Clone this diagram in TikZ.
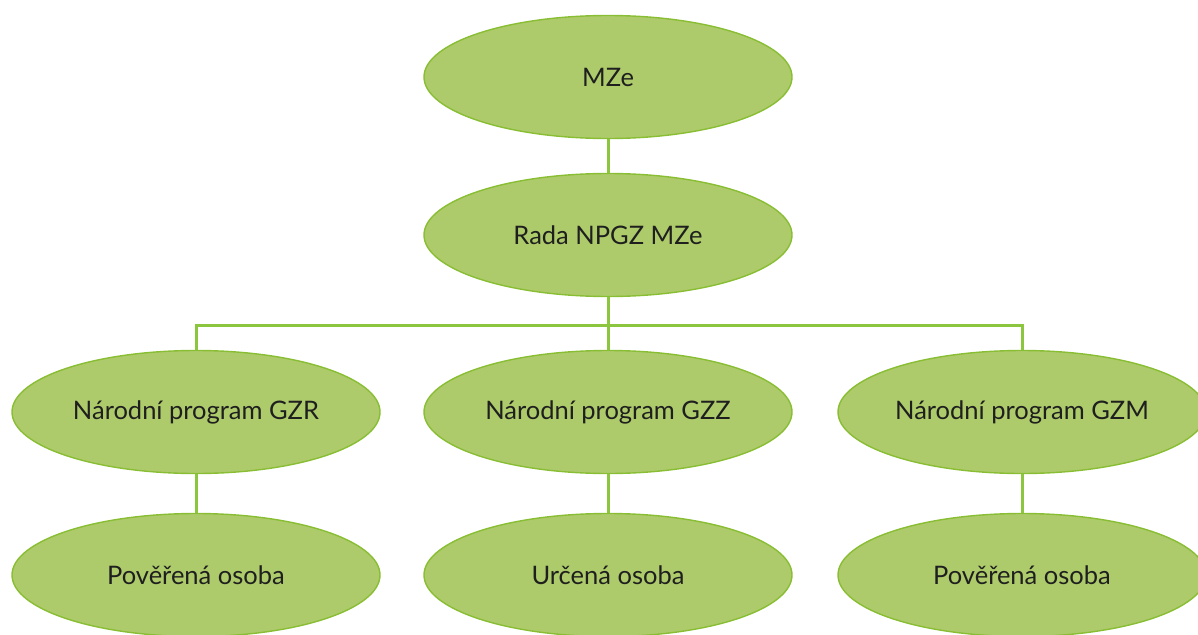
\documentclass[tikz,border=0pt]{standalone}
\usepackage{fontspec}
\setmainfont{Lato}
\usetikzlibrary{shapes.geometric}
\definecolor{efill}{RGB}{173,203,106}
\definecolor{edraw}{RGB}{137,190,52}
\definecolor{lcol}{RGB}{140,198,63}
\tikzset{
  bubble/.style={ellipse, draw=edraw, fill=efill, line width=1.4pt, minimum width=368pt, minimum height=123pt, inner sep=0pt, font=\fontsize{25.5}{30}\selectfont, text=black!88},
  link/.style={draw=lcol, line width=3pt}
}
\begin{document}
\begin{tikzpicture}[x=1pt,y=-1pt]
\useasboundingbox (0,0) rectangle (1198,634);
\node[bubble] (mze) at (608,77) {MZe};
\node[bubble] (rada) at (608,235) {Rada NPGZ MZe};
\node[bubble] (gzr) at (196,412) {Národní program GZR};
\node[bubble] (gzz) at (608,412) {Národní program GZZ};
\node[bubble] (gzm) at (1022,412) {Národní program GZM};
\node[bubble] (p1) at (196,575) {Pověřená osoba};
\node[bubble] (p2) at (608,575) {Určená osoba};
\node[bubble] (p3) at (1022,575) {Pověřená osoba};
\coordinate (hub) at (608,325);
\draw[link] (mze.south) -- (rada.north);
\draw[link] (rada.south) -- (hub);
\draw[link] (gzr.north) |- (hub) -| (gzm.north);
\draw[link] (hub) -- (gzz.north);
\draw[link] (gzr.south) -- (p1.north);
\draw[link] (gzz.south) -- (p2.north);
\draw[link] (gzm.south) -- (p3.north);
\end{tikzpicture}
\end{document}
